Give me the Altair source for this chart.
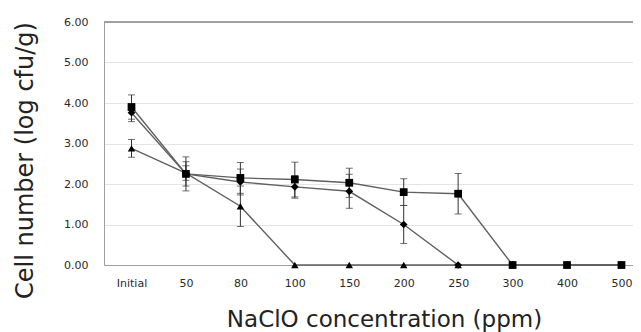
import altair as alt
import pandas as pd

categories = ["Initial", "50", "80", "100", "150", "200", "250", "300", "400", "500"]

square_vals = [3.90, 2.25, 2.15, 2.11, 2.03, 1.80, 1.76, 0.0, 0.0, 0.0]
square_err = [0.30, 0.42, 0.38, 0.43, 0.36, 0.33, 0.50, 0.0, 0.0, 0.0]

diamond_vals = [3.76, 2.25, 2.05, 1.93, 1.82, 1.00, 0.0, 0.0, 0.0, 0.0]
diamond_err = [0.22, 0.30, 0.32, 0.28, 0.42, 0.47, 0.0, 0.0, 0.0, 0.0]

triangle_vals = [2.88, 2.27, 1.45, 0.0, 0.0, 0.0, 0.0, 0.0, 0.0, 0.0]
triangle_err = [0.22, 0.18, 0.50, 0.0, 0.0, 0.0, 0.0, 0.0, 0.0, 0.0]

series = [
    ("triangle", triangle_vals, triangle_err, "triangle-up", 55),
    ("diamond", diamond_vals, diamond_err, "diamond", 60),
    ("square", square_vals, square_err, "square", 60),
]

rows = []
for name, vals, errs, shape, size in series:
    for i, (c, v, e) in enumerate(zip(categories, vals, errs)):
        rows.append({"idx": i, "conc": c, "value": v, "err": e, "lo": v - e, "hi": v + e,
                     "series": name})
df = pd.DataFrame(rows)

W = 529
H = 243
STEP = 54.44
D0 = -27.5 / STEP

label_expr = "[" + ",".join("'%s'" % c for c in categories) + "][datum.value]"
xscale = alt.Scale(domain=[D0, D0 + W / STEP], zero=False, nice=False)
yscale = alt.Scale(domain=[0, 6])

xaxis = alt.Axis(title="NaClO concentration (ppm)", values=list(range(len(categories))),
                 labelExpr=label_expr, labelAngle=0, ticks=False, grid=False,
                 labelPadding=12, labelFontSize=11, labelFont="DejaVu Sans",
                 labelColor="#2a2a2a", domainColor="#a0a0a0", labelFlush=False,
                 labelOverlap=False,
                 titleFont="DejaVu Sans", titleFontSize=23, titleFontWeight="normal",
                 titleColor="#222222", titleX=280, titleY=61,
                 titleBaseline="alphabetic", titleAlign="center")
yaxis = alt.Axis(title="Cell number (log cfu/g)", values=[0, 1, 2, 3, 4, 5, 6], format=".2f",
                 ticks=False, labelPadding=16, labelFontSize=11, labelFont="DejaVu Sans",
                 labelColor="#2a2a2a", domainColor="#a0a0a0", gridColor="#e4e4e4",
                 titleFont="DejaVu Sans", titleFontSize=24, titleFontWeight="normal",
                 titleColor="#222222", titleX=-79, titleY=138, titleAngle=270,
                 titleAlign="center", titleBaseline="middle")

base = alt.Chart(df)

errdf = base.transform_filter("datum.err > 0")
err_rule = errdf.mark_rule(color="#333333", strokeWidth=1).encode(
    x=alt.X("idx:Q", scale=xscale, axis=xaxis),
    y=alt.Y("lo:Q", scale=yscale, axis=yaxis), y2="hi:Q")
cap_lo = errdf.mark_tick(color="#333333", thickness=1, size=7, orient="horizontal").encode(
    x=alt.X("idx:Q"), y=alt.Y("lo:Q"))
cap_hi = errdf.mark_tick(color="#333333", thickness=1, size=7, orient="horizontal").encode(
    x=alt.X("idx:Q"), y=alt.Y("hi:Q"))

layers = [err_rule, cap_lo, cap_hi]
for name, vals, errs, shape, size in series:
    s = base.transform_filter(alt.datum.series == name)
    layers.append(s.mark_line(color="#606060", strokeWidth=1.4).encode(
        x=alt.X("idx:Q"), y=alt.Y("value:Q")))
for name, vals, errs, shape, size in series:
    s = base.transform_filter(alt.datum.series == name)
    layers.append(s.mark_point(shape=shape, size=size, filled=True, color="#000000",
                               opacity=1).encode(
        x=alt.X("idx:Q"), y=alt.Y("value:Q")))

top_border = alt.Chart(df).mark_rule(color="#a0a0a0", strokeWidth=1.5).encode(
    x=alt.value(0), x2=alt.value(W), y=alt.value(0))
layers.append(top_border)

chart = alt.layer(*layers).properties(
    width=W, height=H,
    autosize=alt.AutoSizeParams(type="none"),
    padding={"left": 96, "top": 14, "right": 0, "bottom": 67},
).configure_view(stroke=None)

chart.save("out.html", embed_options={"renderer": "svg", "actions": False})
